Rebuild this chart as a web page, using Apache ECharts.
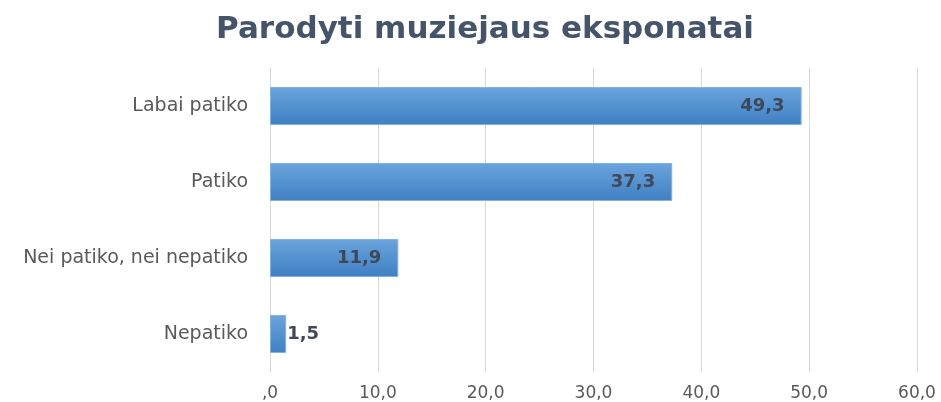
<!DOCTYPE html>
<html><head><meta charset="utf-8">
<script src="https://cdn.jsdelivr.net/npm/echarts@6/dist/echarts.min.js"></script>
<style>html,body{margin:0;padding:0;background:#fff}#c{width:941px;height:402px}</style>
</head><body><div id="c"></div>
<script>
const categories = ["Labai patiko", "Patiko", "Nei patiko, nei nepatiko", "Nepatiko"];
const values = [49.3, 37.3, 11.9, 1.5];
const xTicks = [0, 10, 20, 30, 40, 50, 60];
const titleText = "Parodyti muziejaus eksponatai";

const fmt = v => v === 0 ? ",0" : v.toFixed(1).replace(".", ",");
const F = 'DejaVu Sans';
const chart = echarts.init(document.getElementById('c'));
chart.setOption({
  animation: false,
  title: {
    text: titleText, left: 480, top: 9, textAlign: 'center',
    textStyle: { fontFamily: F, fontWeight: 'bold', fontSize: 31, color: '#44546a' }
  },
  grid: { left: 270, right: 24, top: 68, bottom: 30, containLabel: false },
  xAxis: {
    type: 'value', min: xTicks[0], max: xTicks[xTicks.length - 1], interval: 10,
    axisLine: { show: false }, axisTick: { show: false },
    splitLine: { lineStyle: { color: '#d9d9d9', width: 1 } },
    axisLabel: { formatter: fmt, color: '#595959', fontFamily: F, fontSize: 17, margin: 13 }
  },
  yAxis: {
    type: 'category', data: categories, inverse: true,
    axisLine: { show: true, lineStyle: { color: '#d9d9d9' } }, axisTick: { show: false },
    axisLabel: { color: '#595959', fontFamily: F, fontSize: 19, margin: 22 }
  },
  series: [{
    type: 'bar', data: values.map((v, i) => ({
      value: v,
      label: v < 5 ? { position: 'right', distance: 1 } : {}
    })),
    barWidth: 38,
    itemStyle: {
      color: new echarts.graphic.LinearGradient(0, 0, 0, 1, [
        { offset: 0, color: '#6aa4dd' }, { offset: 1, color: '#3f7fc3' }
      ]),
      borderColor: '#7fb2e5', borderWidth: 1
    },
    label: {
      show: true, position: 'insideRight', distance: 17,
      formatter: p => fmt(p.value),
      color: '#404858', fontWeight: 'bold', fontFamily: F, fontSize: 18
    }
  }]
});
</script></body></html>
